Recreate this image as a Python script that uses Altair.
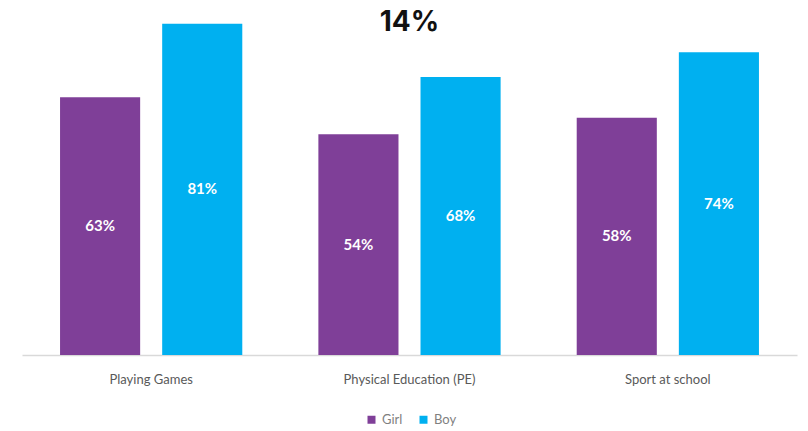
import altair as alt
import pandas as pd

categories = ["Playing Games", "Physical Education (PE)", "Sport at school"]
girl = [63, 54, 58]
boy = [81, 68, 74]
groups = ["Girl", "Boy"]
colors = ["#7F3F98", "#00B0F0"]

rows = []
for c, g, b in zip(categories, girl, boy):
    rows.append({"category": c, "gender": "Girl", "value": g, "label": f"{g}%"})
    rows.append({"category": c, "gender": "Boy", "value": b, "label": f"{b}%"})
df = pd.DataFrame(rows)

FONT = "Lato"

x = alt.X("category:N", sort=categories, title=None,
          scale=alt.Scale(paddingInner=0, paddingOuter=0),
          axis=alt.Axis(labelAngle=0, ticks=False, domainColor="#d9d9d9", domainWidth=1.5,
                        labelFont=FONT, labelFontSize=13, labelColor="#595959",
                        labelPadding=18, grid=False))
xo = alt.XOffset("gender:N", sort=groups,
                 scale=alt.Scale(paddingInner=0.2157, paddingOuter=0.3725))
y = alt.Y("value:Q", scale=alt.Scale(domain=[0, 86.8]), axis=None)

bars = alt.Chart(df).mark_bar().encode(
    x=x, xOffset=xo, y=y,
    color=alt.Color("gender:N", sort=groups,
                    scale=alt.Scale(domain=groups, range=colors),
                    legend=alt.Legend(title=None, orient="none", direction="horizontal",
                                      legendX=343, legendY=413,
                                      symbolType="square", symbolSize=64,
                                      labelFont=FONT, labelFontSize=13, labelColor="#7f7f7f",
                                      columnPadding=14, symbolStrokeWidth=0)),
)

labels = alt.Chart(df).mark_text(color="white", fontWeight="bold", fontSize=15, font=FONT,
                                 baseline="middle").encode(
    x=x, xOffset=xo,
    y=alt.Y("mid:Q", scale=alt.Scale(domain=[0, 86.8]), axis=None),
    text="label:N",
).transform_calculate(mid="datum.value / 2")

chart = alt.layer(bars, labels).properties(
    width=775, height=355,
    title=alt.TitleParams(text="14%", fontSize=28, fontWeight="bold", font="Inter",
                          color="#111111", anchor="middle", offset=-37),
    autosize=alt.AutoSizeParams(type="none"),
    padding={"left": 22, "top": 0, "right": 11, "bottom": 76},
).configure_view(stroke=None)

chart.save("out.html", embed_options={"renderer": "svg", "actions": False})
